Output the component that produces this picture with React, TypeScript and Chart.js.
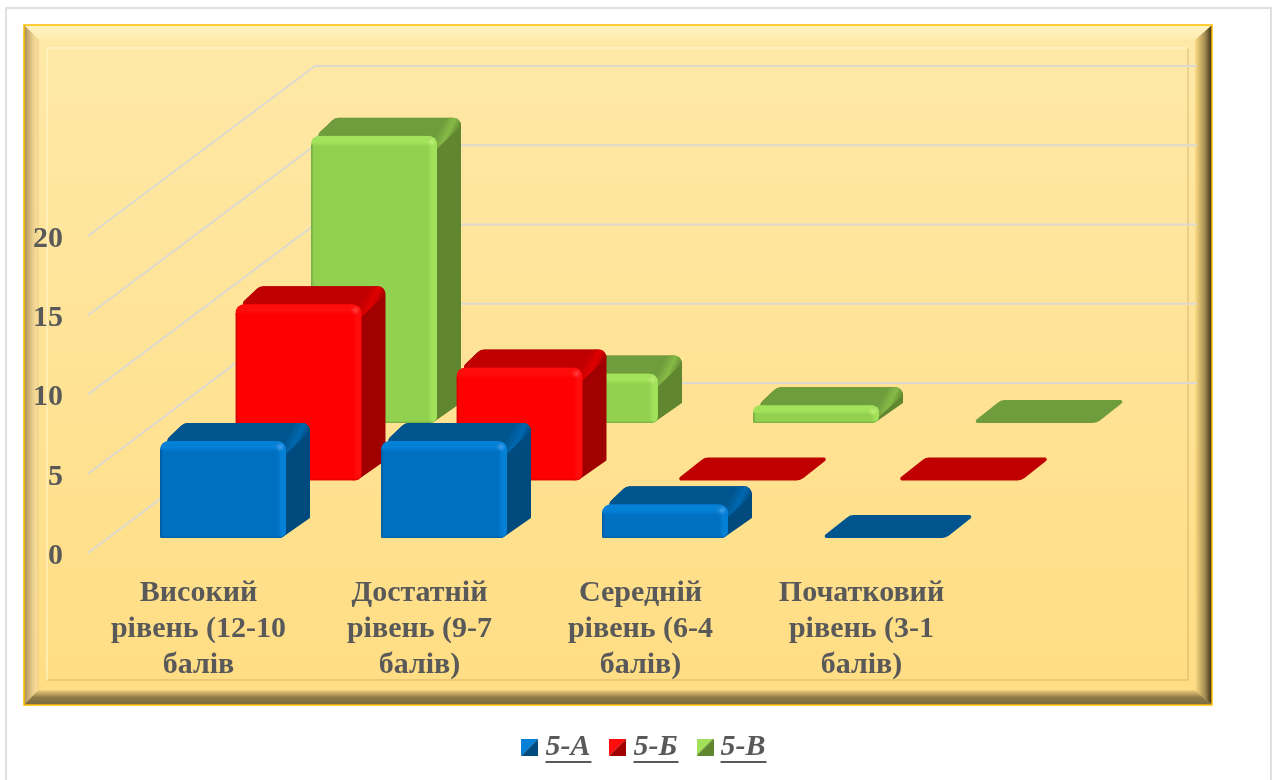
import React, { useEffect, useRef } from "react";
import { Chart, registerables } from "chart.js";

Chart.register(...registerables);

const categories: string[][] = [
  ["Високий", "рівень (12-10", "балів"],
  ["Достатній", "рівень (9-7", "балів)"],
  ["Середній", "рівень (6-4", "балів)"],
  ["Початковий", "рівень (3-1", "балів)"],
];
const seriesNames = ["5-А", "5-Б", "5-В"];
const seriesA = [6, 6, 2, 0];
const seriesB = [11, 7, 0, 0];
const seriesC = [18, 3, 1, 0];
const yTicks = [0, 5, 10, 15, 20];

const palette = [
  { front: "#0070C0", light: "#0480D6", hot: "#3FA0EE", top: "#00558F", corner: "#0068B0", side: "#004A7E", dark: "#005A9C" },
  { front: "#FF0000", light: "#FF0C0C", hot: "#FF4040", top: "#C00000", corner: "#E00000", side: "#A00000", dark: "#CC0000" },
  { front: "#92D050", light: "#A2E25A", hot: "#BEF078", top: "#6F9C3D", corner: "#86BA46", side: "#60862F", dark: "#74A840" },
];
const TEXT = "#595959";
const FONT = "'Liberation Serif', serif";

const WALL_DX = 227;
const WALL_DY = -170;
const WALL_RIGHT = 1197;
const ROW_DX = 75.5;
const ROW_DY = -57.5;
const ROW0_DX = 24.5;
const ROW0_DY = -15;
const BOX_DX = 24;
const BOX_DY = -20;

function marker(c: { front: string; top: string; side: string; light: string }) {
  const cv = document.createElement("canvas");
  cv.width = 17;
  cv.height = 17;
  const g = cv.getContext("2d")!;
  const tri = (col: string, p: number[][]) => {
    g.fillStyle = col;
    g.beginPath();
    g.moveTo(p[0][0], p[0][1]);
    p.slice(1).forEach((q) => g.lineTo(q[0], q[1]));
    g.closePath();
    g.fill();
  };
  tri(c.light, [[0, 0], [17, 0], [0, 17]]);
  tri(c.side, [[17, 0], [17, 17], [0, 17]]);
  return cv;
}

function framePlugin() {
  return {
    id: "frame",
    beforeDraw(chart: any) {
      const { ctx, width, height } = chart;
      const L = 24, T = 25, R = 1212, B = 705;
      ctx.save();
      ctx.fillStyle = "#FFFFFF";
      ctx.fillRect(0, 0, width, height);
      ctx.strokeStyle = "#E0E0E0";
      ctx.lineWidth = 2;
      ctx.beginPath();
      ctx.moveTo(6, height);
      ctx.lineTo(6, 8);
      ctx.lineTo(1271, 8);
      ctx.lineTo(1271, height);
      ctx.stroke();

      const bg = ctx.createLinearGradient(0, T, 0, B);
      bg.addColorStop(0, "#FFE9A8");
      bg.addColorStop(1, "#FFDD83");
      ctx.fillStyle = bg;
      ctx.fillRect(L, T, R - L, B - T);

      const W = 14;
      const trap = (pts: number[][], grad: CanvasGradient) => {
        ctx.fillStyle = grad;
        ctx.beginPath();
        ctx.moveTo(pts[0][0], pts[0][1]);
        pts.slice(1).forEach((p) => ctx.lineTo(p[0], p[1]));
        ctx.closePath();
        ctx.fill();
      };
      const gT = ctx.createLinearGradient(0, T, 0, T + W);
      gT.addColorStop(0, "#FFF3C4");
      gT.addColorStop(1, "#FFEDB0");
      trap([[L, T], [R, T], [R - W, T + W], [L + W, T + W]], gT);
      const gL = ctx.createLinearGradient(L, 0, L + W, 0);
      gL.addColorStop(0, "#A98C55");
      gL.addColorStop(0.6, "#E8CC8C");
      gL.addColorStop(1, "#FFE39A");
      trap([[L, T], [L + W, T + W], [L + W, B - W], [L, B]], gL);
      const gR = ctx.createLinearGradient(R - 17, 0, R, 0);
      gR.addColorStop(0, "#FFDD83");
      gR.addColorStop(0.6, "#A08A50");
      gR.addColorStop(1, "#362A14");
      trap([[R, T], [R, B], [R - 17, B - 15], [R - 17, T + 15]], gR);
      const gB = ctx.createLinearGradient(0, B - 15, 0, B);
      gB.addColorStop(0, "#F2D17C");
      gB.addColorStop(0.5, "#8F7A48");
      gB.addColorStop(1, "#7A6A3E");
      trap([[L, B], [R, B], [R - 17, B - 15], [L + W, B - 15]], gB);

      ctx.strokeStyle = "#FFC000";
      ctx.lineWidth = 1.5;
      ctx.strokeRect(L, T, R - L, B - T);
      ctx.strokeStyle = "rgba(200,160,90,0.45)";
      ctx.lineWidth = 1.5;
      ctx.beginPath();
      ctx.moveTo(47, 680);
      ctx.lineTo(1188, 680);
      ctx.lineTo(1188, 48);
      ctx.stroke();
      ctx.strokeStyle = "rgba(255,246,205,0.7)";
      ctx.beginPath();
      ctx.moveTo(47, 680);
      ctx.lineTo(47, 48);
      ctx.lineTo(1188, 48);
      ctx.stroke();
      ctx.strokeStyle = "rgba(210,180,120,0.35)";
      ctx.beginPath();
      ctx.moveTo(38, 690);
      ctx.lineTo(38, 39);
      ctx.stroke();
      ctx.restore();
    },
  };
}

function roundedPoly(ctx: CanvasRenderingContext2D, pts: number[][], radii: number[]) {
  const n = pts.length;
  ctx.beginPath();
  const start = [(pts[n - 1][0] + pts[0][0]) / 2, (pts[n - 1][1] + pts[0][1]) / 2];
  ctx.moveTo(start[0], start[1]);
  for (let i = 0; i < n; i++) {
    const next = pts[(i + 1) % n];
    ctx.arcTo(pts[i][0], pts[i][1], next[0], next[1], radii[i]);
  }
  ctx.closePath();
}

function drawBox(ctx: CanvasRenderingContext2D, l: number, r: number, yTop: number, base: number, c: (typeof palette)[number]) {
  if (base - yTop < 1) {
    const dy = -23;
    ctx.fillStyle = c.top;
    roundedPoly(ctx, [[l - 2, base], [l + 27, base + dy], [r + 26, base + dy], [r - 3, base]], [2, 11, 2, 11]);
    ctx.fill();
    return;
  }
  const top = yTop - 2;
  const h = base - top;
  const bev = Math.min(9, h * 0.42);
  const back = yTop + BOX_DY;
  const dx = BOX_DX;
  ctx.save();
  roundedPoly(
    ctx,
    [[l, top + 5], [l + dx, back], [r + dx, back], [r + dx, base + BOX_DY], [r - 6, base + 1], [r - 6, top + 5]],
    [5, 9, 8, 1, 2, 1]
  );
  ctx.clip();
  ctx.fillStyle = c.side;
  ctx.fillRect(l - 2, back - 2, r - l + dx + 4, base - back + 4);
  ctx.fillStyle = c.top;
  ctx.beginPath();
  ctx.moveTo(l - 2, top + 6);
  ctx.lineTo(l + dx, back);
  ctx.lineTo(r + dx, back);
  ctx.lineTo(r, top + 6);
  ctx.closePath();
  ctx.fill();
  const eg = ctx.createLinearGradient(r + dx - 16, back, r + dx, back + 8);
  eg.addColorStop(0, c.top);
  eg.addColorStop(0.55, c.corner);
  eg.addColorStop(1, c.side);
  ctx.fillStyle = eg;
  ctx.beginPath();
  ctx.moveTo(r - 10, top + 5);
  ctx.lineTo(r + dx - 13, back);
  ctx.lineTo(r + dx, back);
  ctx.lineTo(r + dx, back + 8);
  ctx.lineTo(r, top + bev + 4);
  ctx.closePath();
  ctx.fill();
  ctx.restore();
  const w = r - l;
  ctx.save();
  ctx.beginPath();
  ctx.roundRect(l, top, w, h, [bev, bev, Math.min(7, bev), 2]);
  ctx.clip();
  ctx.fillStyle = c.front;
  ctx.fillRect(l, top, w, h);
  const t = ctx.createLinearGradient(0, top, 0, top + bev + 2);
  t.addColorStop(0, c.light);
  t.addColorStop(0.6, c.light);
  t.addColorStop(1, c.front);
  ctx.fillStyle = t;
  ctx.fillRect(l, top, w, bev + 2);
  const s = ctx.createLinearGradient(r - bev, 0, r, 0);
  s.addColorStop(0, c.front);
  s.addColorStop(0.5, c.light);
  s.addColorStop(1, c.light);
  ctx.fillStyle = s;
  ctx.fillRect(r - bev, top + 2, bev, h - 2);
  const e = ctx.createLinearGradient(l, 0, l + 3, 0);
  e.addColorStop(0, c.dark);
  e.addColorStop(1, c.front);
  ctx.fillStyle = e;
  ctx.fillRect(l, top + bev, 3, h);
  const b = ctx.createLinearGradient(0, base - 3, 0, base);
  b.addColorStop(0, c.front + "00");
  b.addColorStop(1, c.dark);
  ctx.fillStyle = b;
  ctx.fillRect(l, base - 3, w, 3);
  const hs = ctx.createRadialGradient(r - 6, top + 6, 0, r - 6, top + 6, 5);
  hs.addColorStop(0, c.hot);
  hs.addColorStop(1, c.hot + "00");
  ctx.fillStyle = hs;
  ctx.fillRect(r - 12, top, 12, 12);
  ctx.restore();
}

const scenePlugin = {
  id: "scene",
  beforeDatasetsDraw(chart: any) {
    const { ctx, scales } = chart;
    const y = scales.y;
    const left = chart.chartArea.left;
    ctx.save();
    ctx.strokeStyle = "#DCDAD0";
    ctx.lineWidth = 2;
    yTicks.forEach((v) => {
      const py = y.getPixelForValue(v);
      ctx.beginPath();
      ctx.moveTo(left, py);
      ctx.lineTo(left + WALL_DX, py + WALL_DY);
      ctx.lineTo(WALL_RIGHT, py + WALL_DY);
      ctx.stroke();
    });
    for (let i = 2; i >= 0; i--) {
      const meta = chart.getDatasetMeta(i);
      meta.data.forEach((bar: any) => {
        const p = bar.getProps(["x", "y", "base", "width"], true);
        const ox = ROW0_DX + i * ROW_DX;
        const oy = ROW0_DY + i * ROW_DY;
        drawBox(ctx, p.x - p.width / 2 + ox, p.x + p.width / 2 + ox, p.y + oy, p.base + oy, palette[i]);
      });
    }
    ctx.restore();
  },
  beforeDatasetDraw() {
    return false;
  },
  afterDraw(chart: any) {
    const { ctx, legend } = chart;
    if (!legend || !legend.legendHitBoxes) return;
    ctx.save();
    ctx.strokeStyle = TEXT;
    ctx.lineWidth = 2;
    legend.legendHitBoxes.forEach((h: any) => {
      const ly = h.top + h.height / 2 + 15;
      ctx.beginPath();
      ctx.moveTo(h.left + 16, ly);
      ctx.lineTo(h.left + h.width + 1, ly);
      ctx.stroke();
    });
    ctx.restore();
  },
};

export default function App() {
  const ref = useRef<HTMLCanvasElement>(null);
  useEffect(() => {
    const markers = palette.map(marker);
    const chart = new Chart(ref.current!, {
      type: "bar",
      data: {
        labels: categories,
        datasets: [seriesA, seriesB, seriesC].map((data, i) => ({
          label: seriesNames[i],
          data,
          backgroundColor: palette[i].front,
          grouped: false,
          barPercentage: 0.57,
          categoryPercentage: 1,
          minBarLength: 0,
        })),
      },
      options: {
        responsive: false,
        animation: false,
        events: [],
        layout: { autoPadding: false, padding: { top: 236, left: 17, right: 0, bottom: 8 } },
        plugins: {
          tooltip: { enabled: false },
          title: { display: false },
          legend: {
            position: "bottom",
            maxHeight: 76,
            labels: {
              usePointStyle: true,
              pointStyleWidth: 1,
              padding: 27,
              color: TEXT,
              font: { family: FONT, size: 30, weight: "bold", style: "italic" },
              generateLabels: () =>
                seriesNames.map((text, i) => ({
                  text,
                  pointStyle: markers[i],
                  fontColor: TEXT,
                  datasetIndex: i,
                  lineWidth: 0,
                  fillStyle: palette[i].front,
                  strokeStyle: palette[i].front,
                })),
            },
          },
        },
        scales: {
          x: {
            grid: { display: false },
            border: { display: false },
            afterFit: (s: any) => {
              s.height = 152;
            },
            ticks: {
              autoSkip: false,
              maxRotation: 0,
              padding: 14,
              color: TEXT,
              font: { family: FONT, size: 30, weight: "bold", lineHeight: 1.2 },
            },
          },
          y: {
            min: 0,
            max: 20,
            grid: { display: false },
            border: { display: false },
            afterFit: (s: any) => {
              s.width = 71;
            },
            afterBuildTicks: (s: any) => {
              s.ticks = yTicks.map((value) => ({ value }));
            },
            ticks: {
              padding: 17,
              color: TEXT,
              font: { family: FONT, size: 30, weight: "bold", lineHeight: 0.2 },
              // an empty first line nudges the number down to sit where the reference has it
              callback: (value: any) => ["", String(value)],
            },
          },
          depth: {
            axis: "y",
            position: "right",
            grid: { display: false },
            border: { display: false },
            ticks: { display: false },
            afterFit: (s: any) => {
              s.width = 306;
            },
          },
        },
      },
      plugins: [framePlugin(), scenePlugin],
    } as any);
    return () => chart.destroy();
  }, []);
  return (
    <div style={{ position: "fixed", left: 0, top: 0, width: 1278, height: 780, background: "#fff" }}>
      <canvas ref={ref} width={1278} height={780} style={{ display: "block" }} />
    </div>
  );
}
